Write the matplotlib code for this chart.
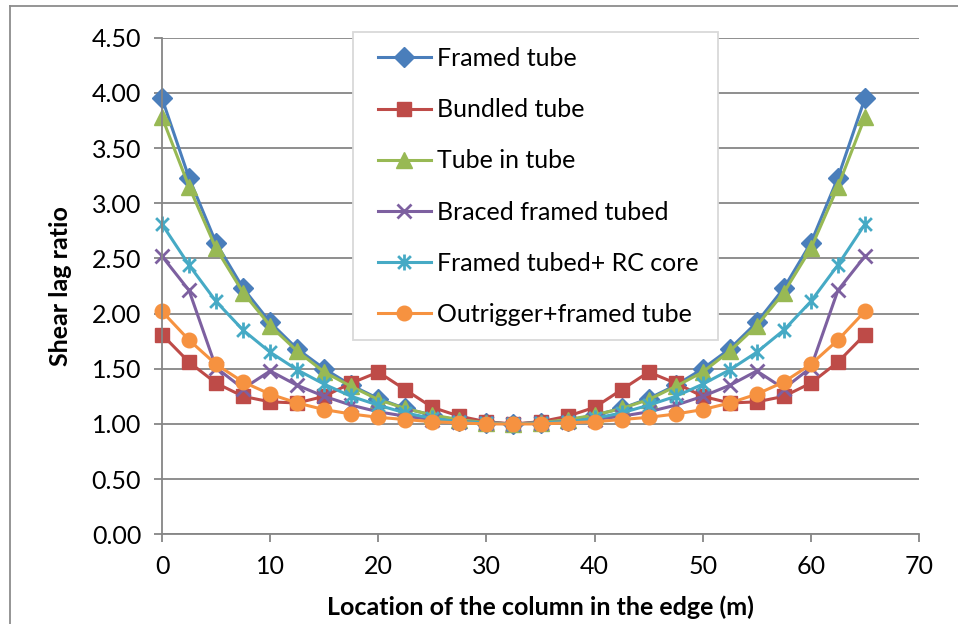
import matplotlib
matplotlib.use("Agg")
import matplotlib.pyplot as plt
from matplotlib.path import Path
from matplotlib.lines import Line2D
from matplotlib.patches import Rectangle
from matplotlib.ticker import FormatStrFormatter, MultipleLocator

plt.rcParams['font.family'] = ['Lato', 'DejaVu Sans']

# Column positions along the edge (m)
location = [0, 2.5, 5, 7.5, 10, 12.5, 15, 17.5, 20, 22.5, 25, 27.5, 30, 32.5,
            35, 37.5, 40, 42.5, 45, 47.5, 50, 52.5, 55, 57.5, 60, 62.5, 65]

framed_tube = [3.95, 3.23, 2.64, 2.23, 1.92, 1.68, 1.50, 1.35, 1.23, 1.14, 1.08, 1.03, 1.01, 1.00,
               1.01, 1.03, 1.08, 1.14, 1.23, 1.35, 1.50, 1.68, 1.92, 2.23, 2.64, 3.23, 3.95]
bundled_tube = [1.81, 1.56, 1.37, 1.25, 1.20, 1.19, 1.25, 1.37, 1.47, 1.31, 1.15, 1.07, 1.02, 1.00,
                1.02, 1.07, 1.15, 1.31, 1.47, 1.37, 1.25, 1.19, 1.20, 1.25, 1.37, 1.56, 1.81]
tube_in_tube = [3.78, 3.15, 2.59, 2.19, 1.89, 1.66, 1.47, 1.34, 1.22, 1.14, 1.08, 1.04, 1.01, 1.00,
                1.01, 1.04, 1.08, 1.14, 1.22, 1.34, 1.47, 1.66, 1.89, 2.19, 2.59, 3.15, 3.78]
braced_framed = [2.52, 2.21, 1.51, 1.32, 1.48, 1.35, 1.25, 1.17, 1.11, 1.07, 1.04, 1.02, 1.01, 1.00,
                 1.01, 1.02, 1.04, 1.07, 1.11, 1.17, 1.25, 1.35, 1.48, 1.32, 1.51, 2.21, 2.52]
framed_rc_core = [2.81, 2.44, 2.11, 1.85, 1.65, 1.49, 1.36, 1.25, 1.17, 1.10, 1.05, 1.02, 1.01, 1.00,
                  1.01, 1.02, 1.05, 1.10, 1.17, 1.25, 1.36, 1.49, 1.65, 1.85, 2.11, 2.44, 2.81]
outrigger_framed = [2.02, 1.76, 1.54, 1.38, 1.27, 1.19, 1.13, 1.09, 1.06, 1.04, 1.02, 1.01, 1.00, 1.00,
                    1.00, 1.01, 1.02, 1.04, 1.06, 1.09, 1.13, 1.19, 1.27, 1.38, 1.54, 1.76, 2.02]

labels = ["Framed tube", "Bundled tube", "Tube in tube", "Braced framed tubed",
          "Framed tubed+ RC core", "Outrigger+framed tube"]

# asterisk marker: an X with a vertical stroke through it
asterisk = Path([(-1, -1), (1, 1), (-1, 1), (1, -1), (0, -1.25), (0, 1.25)],
                [Path.MOVETO, Path.LINETO, Path.MOVETO, Path.LINETO, Path.MOVETO, Path.LINETO])

series = [
    (framed_tube, '#4A7EBB', 'D', 10.0, 1.0),
    (bundled_tube, '#BE4B48', 's', 9.5, 1.0),
    (tube_in_tube, '#98B954', '^', 11.0, 1.0),
    (braced_framed, '#7D60A0', 'x', 10.0, 2.0),
    (framed_rc_core, '#46AAC5', asterisk, 11.5, 2.0),
    (outrigger_framed, '#F69240', 'o', 10.5, 1.0),
]

W, H = 958, 624
FS = 18

fig = plt.figure(figsize=(W / 100, H / 100), dpi=100)
ax_left, ax_right, ax_top, ax_bottom = 162, 919, 37.7, 534.3
ax = fig.add_axes([ax_left / W, 1 - ax_bottom / H, (ax_right - ax_left) / W, (ax_bottom - ax_top) / H])

for (vals, color, marker, ms, mew), label in zip(series, labels):
    ax.plot(location, vals, color=color, lw=2.2, marker=marker, markersize=ms,
            markerfacecolor=color, markeredgecolor=color, markeredgewidth=mew,
            label=label, clip_on=False)

ax.set_xlim(0, 70)
ax.set_ylim(0, 4.5)
ax.xaxis.set_major_locator(MultipleLocator(10))
ax.yaxis.set_major_locator(MultipleLocator(0.5))
ax.yaxis.set_major_formatter(FormatStrFormatter('%.2f'))

grid_color = '#868686'
ax.grid(axis='y', color=grid_color, lw=1.3)
ax.set_axisbelow(True)
for side in ('top', 'right'):
    ax.spines[side].set_visible(False)
for side in ('left', 'bottom'):
    ax.spines[side].set_color(grid_color)
    ax.spines[side].set_linewidth(1.3)
ax.tick_params(axis='both', direction='out', length=6, width=1.3, color=grid_color,
               labelsize=FS, labelcolor='black')
ax.tick_params(axis='y', pad=9)
ax.tick_params(axis='x', pad=9)

ax.set_ylabel("Shear lag ratio", fontsize=FS, fontweight='bold')
ax.set_xlabel("Location of the column in the edge (m)", fontsize=FS, fontweight='bold')
ax.yaxis.set_label_coords((72 - ax_left) / (ax_right - ax_left), 0.5)
ax.xaxis.set_label_coords(0.5, -(595 - ax_bottom) / (ax_bottom - ax_top))

# legend box
box_l, box_t, box_r, box_b = 353, 32, 718, 340
frame = Rectangle((box_l / W, 1 - box_b / H), (box_r - box_l) / W, (box_b - box_t) / H,
                  transform=fig.transFigure, facecolor='white', edgecolor='#D9D9D9',
                  lw=1.3, zorder=8)
fig.add_artist(frame)
leg = fig.legend(*ax.get_legend_handles_labels(), loc='upper left',
                 bbox_to_anchor=(378 / W, 1 - 47 / H), bbox_transform=fig.transFigure,
                 fontsize=FS, frameon=False, handlelength=2.1, handletextpad=0.25,
                 labelspacing=1.13, borderpad=0, borderaxespad=0)
leg.set_zorder(10)

# outer chart border
fig.add_artist(Line2D([10 / W, 10 / W], [0, 1 - 6 / H], transform=fig.transFigure,
                      color='#8C8C8C', lw=1.3))
fig.add_artist(Line2D([10 / W, 1], [1 - 6 / H, 1 - 6 / H], transform=fig.transFigure,
                      color='#8C8C8C', lw=1.3))

fig.savefig("out.png", dpi=100)
